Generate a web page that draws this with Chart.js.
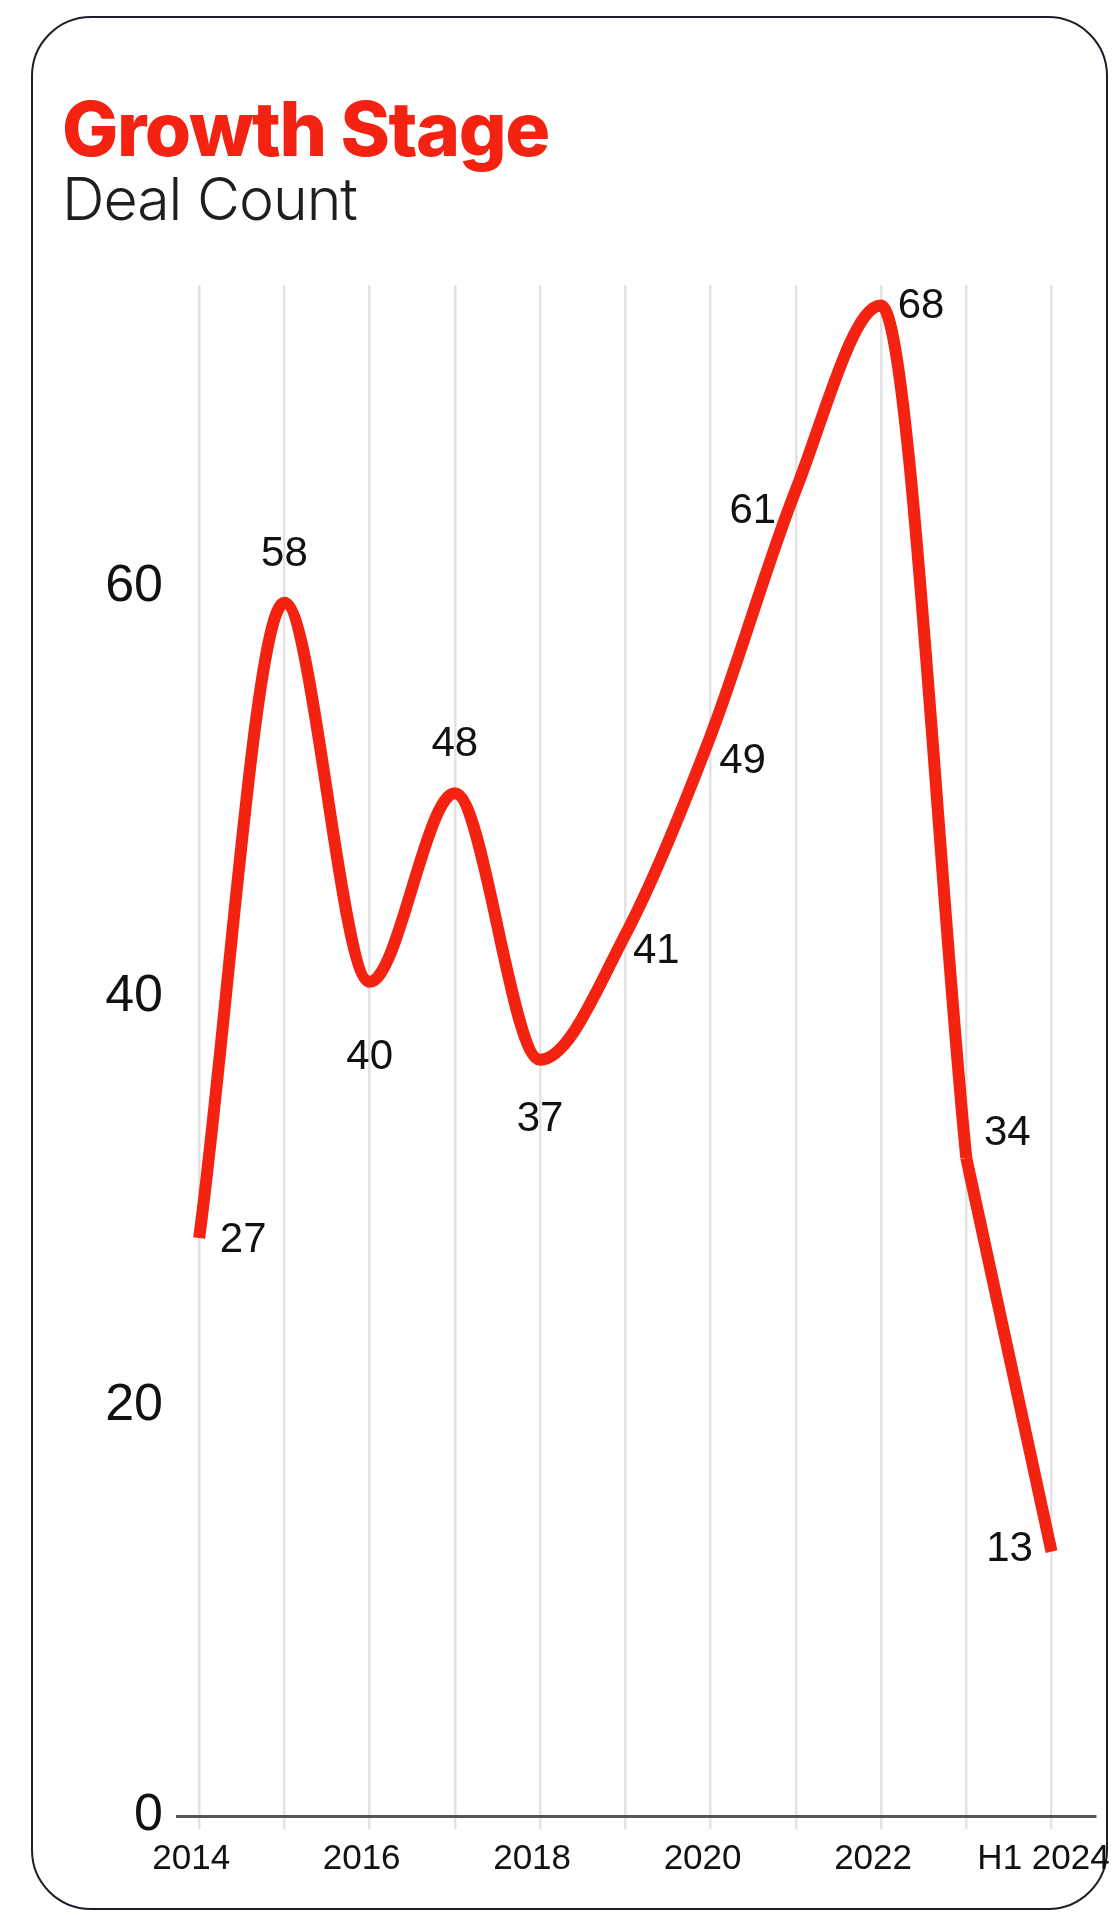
<!DOCTYPE html>
<html>
<head>
<meta charset="utf-8">
<script src="https://cdn.jsdelivr.net/npm/chart.js@4.4.1/dist/chart.umd.min.js"></script>
<style>
  html, body { margin: 0; padding: 0; background: #fff; }
  body { width: 1115px; height: 1915px; position: relative; overflow: hidden; }
  .card {
    position: absolute; left: 31px; top: 16px; width: 1077px; height: 1894px;
    border: 2.5px solid #1b1e2b; border-radius: 60px; box-sizing: border-box;
  }
  .chart-wrap { position: absolute; left: 0; top: 0; width: 1115px; height: 1915px; }
  .title {
    position: absolute; left: 62px; top: 91px; margin: 0;
    font-family: Inter, "Noto Sans", sans-serif; font-weight: 800; font-size: 75px;
    color: #f42311; letter-spacing: -1.5px; line-height: 1;
  }
  .subtitle {
    position: absolute; left: 62px; top: 169px; margin: 0;
    font-family: Inter, "Noto Sans", sans-serif; font-weight: 300; font-size: 59px;
    color: #1e1e1e; letter-spacing: -1px; line-height: 1;
  }
</style>
</head>
<body>
<div class="card"></div>
<div class="chart-wrap"><canvas id="growthChart"></canvas></div>
<div class="title">Growth Stage</div>
<div class="subtitle">Deal Count</div>

<script>
"use strict";

// categories on the x axis
const years = ["2014", "2015", "2016", "2017", "2018", "2019", "2020", "2021", "2022", "2023", "H1 2024"];
// deal counts as printed next to each point
const dealCounts = [27, 58, 40, 48, 37, 41, 49, 61, 68, 34, 13];
// where the drawn line actually sits
const lineLevels = [28.2, 59.2, 40.7, 49.9, 36.9, 43.0, 52.7, 64.7, 73.7, 32.1, 12.9];
// y tick labels
const yTicks = [0, 20, 40, 60];

// label placement around each point (dx, dy in px)
const labelOffsets = [
    [44, 2], [0, -48], [0, 76], [0, -49], [0, 60], [31, 17],
    [32, 26], [-43, 21], [40, 1], [41, -25], [-42, -2]
];

const RED = "#f42311";
const LAST_CURVED = 9; // the line breaks into a straight run after 2023

const pointLabels = {
    id: "pointLabels",
    afterDatasetsDraw(chart) {
        const ctx = chart.ctx;
        const { x, y } = chart.scales;
        ctx.save();
        ctx.font = '42px "Liberation Sans", Arial, sans-serif';
        ctx.fillStyle = "#111";
        ctx.textAlign = "center";
        ctx.textBaseline = "middle";
        dealCounts.forEach((count, i) => {
            const [dx, dy] = labelOffsets[i];
            const px = x.getPixelForValue(i);
            const py = y.getPixelForValue(lineLevels[i]);
            ctx.fillText(String(count), px + dx, py + dy);
        });
        ctx.restore();
    }
};

function initGrowthChart() {
    const ctx = document.getElementById("growthChart").getContext("2d");
    const points = lineLevels.map((v, i) => ({ x: i, y: v }));

    const lineStyle = { borderColor: RED, borderWidth: 12, pointRadius: 0, fill: false, clip: 20 };

    new Chart(ctx, {
        type: "line",
        data: {
            datasets: [
                { ...lineStyle, data: points.slice(0, LAST_CURVED + 1), cubicInterpolationMode: "monotone" },
                { ...lineStyle, data: points.slice(LAST_CURVED), tension: 0 }
            ]
        },
        options: {
            responsive: true,
            maintainAspectRatio: false,
            animation: false,
            events: [],
            layout: { padding: { left: 60, right: 20, top: 285, bottom: 39 } },
            plugins: {
                legend: { display: false },
                tooltip: { enabled: false }
            },
            scales: {
                x: {
                    type: "linear",
                    min: -0.26,
                    max: 10.51,
                    afterBuildTicks: (scale) => { scale.ticks = years.map((_, i) => ({ value: i })); },
                    afterFit: (scale) => {
                        scale.height = 60;
                        // keep the chart area fixed; edge labels may hang over
                        scale.paddingLeft = 0;
                        scale.paddingRight = 0;
                    },
                    ticks: {
                        autoSkip: false,
                        maxRotation: 0,
                        padding: 9,
                        labelOffset: -8,
                        color: "#111",
                        font: { family: '"Liberation Sans", Arial, sans-serif', size: 35 },
                        callback: (value) => (value % 2 === 0 ? years[value] : "")
                    },
                    grid: { color: "#e3e3e3", lineWidth: 2.5, tickLength: 13 },
                    border: { display: true, color: "#555", width: 3 }
                },
                y: {
                    min: 0,
                    max: 74.7,
                    afterBuildTicks: (scale) => { scale.ticks = yTicks.map(v => ({ value: v })); },
                    afterFit: (scale) => { scale.width = 117; },
                    ticks: {
                        padding: 14,
                        color: "#111",
                        font: { family: '"Liberation Sans", Arial, sans-serif', size: 52 }
                    },
                    grid: { display: false, drawTicks: false },
                    border: { display: false }
                }
            }
        },
        plugins: [pointLabels]
    });
}

document.addEventListener("DOMContentLoaded", initGrowthChart);
</script>
</body>
</html>
